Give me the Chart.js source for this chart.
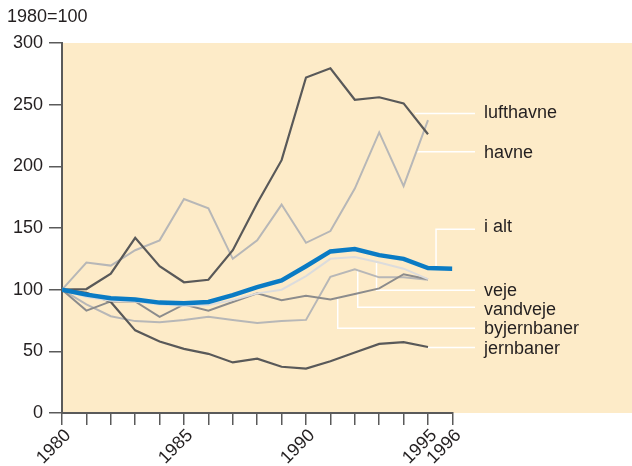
<!DOCTYPE html>
<html>
<head>
<meta charset="utf-8">
<script src="https://cdn.jsdelivr.net/npm/chart.js@4/dist/chart.umd.min.js"></script>
<style>
  html, body { margin: 0; padding: 0; background: #fff; }
  #wrap { width: 632px; height: 466px; }
</style>
</head>
<body>
<div id="wrap"><canvas id="chart" width="632" height="466"></canvas></div>
<script>
// index, 1980 = 100
const years = [1980, 1981, 1982, 1983, 1984, 1985, 1986, 1987, 1988, 1989, 1990, 1991, 1992, 1993, 1994, 1995, 1996];
const labeledYears = [1980, 1985, 1990, 1995, 1996];

const iAlt        = [100, 96, 93, 92, 89.5, 89, 90, 95.5, 102, 107.5, 119, 131, 133, 128, 125, 117.5, 117];
const veje        = [100, 94, 91, 90.5, 88, 87, 87.5, 91.5, 97, 100, 111, 125, 126.5, 122, 117, 108.5];
const lufthavne   = [100, 100.5, 113, 142, 119, 106, 108, 132, 170, 205, 272, 279.5, 254, 256, 251, 226];
const havne       = [100, 122, 119.5, 132, 140, 173.5, 166, 125, 140, 169, 138, 147.5, 182, 227.5, 184, 237.5];
const vandveje    = [100, 88, 78.5, 74.5, 73.5, 75.5, 78, 75.5, 73, 74.5, 75.5, 110.5, 116.5, 110, 110, 108];
const byjernbaner = [100, 83, 90.5, 90.5, 78, 88, 83, 90, 97, 91.5, 95, 92, 96.5, 101, 112.5, 108.5];
const jernbaner   = [100, 97.5, 90, 67, 58, 52, 48, 41, 44, 37.5, 36, 42, 49, 56, 57.5, 53.5];

const names = ["lufthavne", "havne", "i alt", "veje", "vandveje", "byjernbaner", "jernbaner"];

function pts(arr) {
  return arr.map((v, i) => ({ x: years[i], y: v }));
}

// leader lines: horizontal ones start at a point, elbow ones run up/down first
const leaders = [
  { name: "lufthavne",   x: 1994.47, from: null,  at: 242.8, dy: 4.0 },
  { name: "havne",       x: 1994.51, from: null,  at: 211.9, dy: 6.6 },
  { name: "i alt",       x: 1995.33, from: 117.5, at: 149.0, dy: 2.6 },
  { name: "veje",        x: 1992.89, from: 122,   at: 99.5,  dy: 5.4 },
  { name: "vandveje",    x: 1992.12, from: 116.5, at: 85.7,  dy: 7.5 },
  { name: "byjernbaner", x: 1991.30, from: 94,    at: 68.7,  dy: 6.0 },
  { name: "jernbaner",   x: 1995.0,  from: null,  at: 53.2,  dy: 6.3 }
];

const FONT = "Liberation Sans, Arial, sans-serif";
const INK = "#231f20";
const AXIS = "#5a5a5a";

const backdrop = {
  id: "backdrop",
  beforeDraw(chart) {
    const { ctx, chartArea: a } = chart;
    ctx.save();
    ctx.fillStyle = "#fdebc8";
    ctx.fillRect(a.left, a.top, chart.width - a.left, a.bottom - a.top);
    ctx.restore();
  },
  beforeDatasetsDraw(chart) {
    const { ctx, chartArea: a } = chart;
    const xs = chart.scales.x, ys = chart.scales.y;
    const endX = a.right + 22.6;
    ctx.save();
    ctx.strokeStyle = "#ffffff";
    ctx.lineWidth = 1.5;
    leaders.forEach(l => {
      const px = xs.getPixelForValue(l.x);
      const py = ys.getPixelForValue(l.at);
      ctx.beginPath();
      if (l.from !== null) {
        ctx.moveTo(px, ys.getPixelForValue(l.from));
        ctx.lineTo(px, py);
      } else {
        ctx.moveTo(px, py);
      }
      ctx.lineTo(endX, py);
      ctx.stroke();
    });
    ctx.restore();
  },
  afterDraw(chart) {
    const { ctx, chartArea: a } = chart;
    const ys = chart.scales.y;
    ctx.save();
    ctx.fillStyle = INK;
    ctx.font = "18px " + FONT;
    ctx.textBaseline = "alphabetic";
    ctx.textAlign = "left";
    leaders.forEach(l => {
      ctx.fillText(l.name, a.right + 31.5, ys.getPixelForValue(l.at) + l.dy);
    });
    ctx.fillText("1980=100", 7, 21.5);
    ctx.restore();
  }
};

function line(label, arr, color, width) {
  return {
    label: label,
    data: pts(arr),
    borderColor: color,
    backgroundColor: color,
    borderWidth: width,
    pointRadius: 0,
    tension: 0,
    fill: false,
    borderJoinStyle: "miter",
    borderCapStyle: "butt"
  };
}

new Chart(document.getElementById("chart"), {
  type: "line",
  data: {
    datasets: [
      line(names[2], iAlt, "#0a7bc4", 4.5),
      line(names[3], veje, "#dcdcdc", 2),
      line(names[0], lufthavne, "#595959", 2.2),
      line(names[6], jernbaner, "#595959", 2.2),
      line(names[5], byjernbaner, "#8c8c8c", 2),
      line(names[4], vandveje, "#b7b7b7", 2),
      line(names[1], havne, "#b7b7b7", 2)
    ]
  },
  options: {
    responsive: false,
    animation: false,
    devicePixelRatio: 1,
    layout: { padding: { top: 43, right: 179.6, left: 0, bottom: 0 } },
    plugins: { legend: { display: false }, tooltip: { enabled: false } },
    scales: {
      x: {
        type: "linear",
        min: 1980,
        max: 1996,
        afterFit(scale) { scale.height = 53; },
        afterBuildTicks(scale) { scale.ticks = years.map(y => ({ value: y })); },
        border: { display: true, color: AXIS, width: 2 },
        grid: { drawOnChartArea: false, drawTicks: true, tickLength: 12, color: AXIS, lineWidth: 1.5 },
        ticks: {
          autoSkip: false,
          minRotation: 45,
          maxRotation: 45,
          padding: 0,
          labelOffset: 6,
          color: INK,
          font: { family: FONT, size: 18 },
          callback: v => labeledYears.includes(v) ? String(v) : ""
        }
      },
      y: {
        min: 0,
        max: 300,
        afterFit(scale) { scale.width = 62; },
        border: { display: true, color: AXIS, width: 2 },
        grid: { drawOnChartArea: false, drawTicks: true, tickLength: 13, color: AXIS, lineWidth: 1.5 },
        ticks: {
          stepSize: 50,
          padding: 6,
          color: INK,
          font: { family: FONT, size: 18 }
        }
      }
    }
  },
  plugins: [backdrop]
});
</script>
</body>
</html>
